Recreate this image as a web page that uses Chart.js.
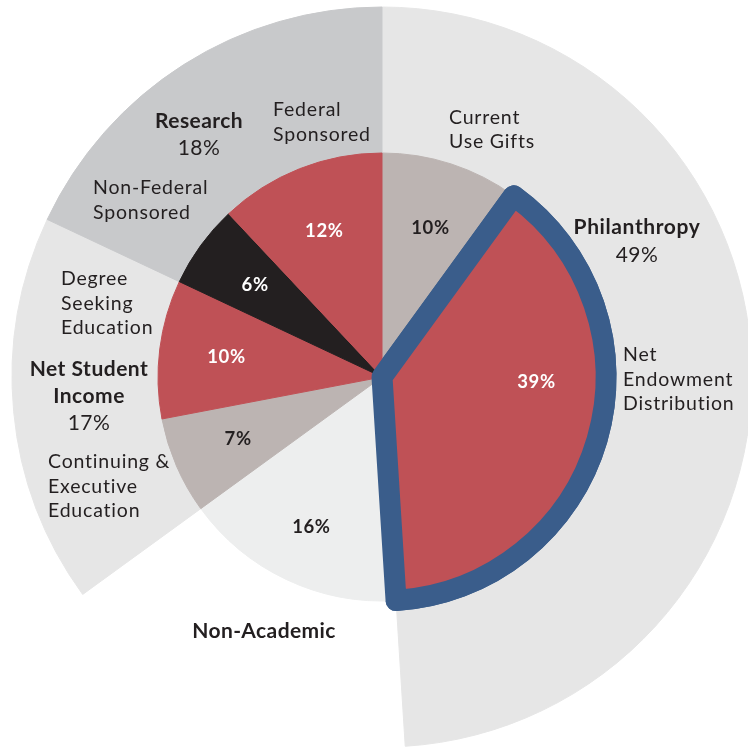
<!DOCTYPE html>
<html>
<head>
<meta charset="utf-8">
<script src="https://cdn.jsdelivr.net/npm/chart.js@4.4.1/dist/chart.umd.min.js"></script>
<style>
  html, body { margin: 0; padding: 0; background: #fff; }
  #wrap { width: 748px; height: 749px; }
</style>
</head>
<body>
<div id="wrap"><canvas id="chart" width="748" height="749"></canvas></div>
<script>
// ===== DATA =====
// inner pie, clockwise from 12 o'clock
const sliceLabels = ["Current Use Gifts", "Net Endowment Distribution", "Non-Academic",
  "Continuing & Executive Education", "Degree Seeking Education", "Non-Federal Sponsored", "Federal Sponsored"];
const sliceValues = [10, 39, 16, 7, 10, 6, 12];
const sliceColors = ["#bcb4b2", "#bf5156", "#edeeee", "#bcb4b2", "#bf5156", "#231f20", "#bf5156"];
const sliceTextColors = ["#231f20", "#ffffff", "#231f20", "#231f20", "#ffffff", "#ffffff", "#ffffff"];

// outer groups (Non-Academic has no outer band)
const groupLabels = ["Philanthropy", "", "Net Student Income", "Research"];
const groupValues = [49, 16, 17, 18];
const groupColors = ["#e6e6e6", "rgba(0,0,0,0)", "#e6e6e6", "#c8c9cb"];

const HIGHLIGHT = 1; // Net Endowment Distribution
const INK = "#231f20";

// ===== CHART =====
const OUTER_R = 370, INNER_R = 224;

const highlightPlugin = {
  id: "highlight",
  afterDatasetsDraw(chart) {
    // redraw the outlined slice so its border sits over the neighbours
    const arc = chart.getDatasetMeta(1).data[HIGHLIGHT];
    chart.ctx.save();
    arc.draw(chart.ctx);
    chart.ctx.restore();
  }
};

function drawLines(ctx, lines, x, y, align, gap) {
  ctx.textAlign = align;
  ctx.textBaseline = "middle";
  lines.forEach((l, i) => {
    ctx.font = l[1];
    ctx.letterSpacing = l[2] || "0.8px";
    ctx.fillText(l[0], x, y + (l[3] !== undefined ? l[3] : i * gap));
  });
}

const labelPlugin = {
  id: "labels",
  afterDraw(chart) {
    const ctx = chart.ctx;
    const meta = chart.getDatasetMeta(1);
    ctx.save();
    ctx.fillStyle = INK;

    // slice percentages
    meta.data.forEach((arc, i) => {
      let mid = (arc.startAngle + arc.endAngle) / 2;
      let r = INNER_R * 0.7;
      if (i === HIGHLIGHT) { mid = 0.03; r = INNER_R * 0.69; }
      if (i === 2) r = INNER_R * 0.74;
      const x = arc.x + Math.cos(mid) * r;
      const y = arc.y + Math.sin(mid) * r;
      ctx.fillStyle = sliceTextColors[i];
      ctx.font = "bold 18.5px Lato";
      ctx.letterSpacing = "0.6px";
      ctx.textAlign = "center";
      ctx.textBaseline = "middle";
      ctx.fillText(sliceValues[i] + "%", x, y);
    });

    ctx.fillStyle = INK;
    const cx = meta.data[0].x, cy = meta.data[0].y;
    const B = "bold 21px Lato", R = "19.5px Lato", P = "21px Lato";

    drawLines(ctx, [["Research", B, "0.4px"], ["18%", P, "0.5px", 27]], cx - 183, cy - 256, "center", 25);
    drawLines(ctx, [["Federal", R], ["Sponsored", R]], cx - 109, cy - 267, "left", 24.5);
    drawLines(ctx, [["Non-Federal", R], ["Sponsored", R]], cx - 289, cy - 189, "left", 24.5);
    drawLines(ctx, [["Current", R], ["Use Gifts", R]], cx + 67, cy - 259, "left", 23.5);
    drawLines(ctx, [["Philanthropy", B, "0.6px"], ["49%", P, "0.5px", 28]], cx + 255, cy - 150, "center", 27);
    drawLines(ctx, [["Net", R], ["Endowment", R], ["Distribution", R]], cx + 241, cy - 22, "left", 24.5);
    drawLines(ctx, [["Degree", R], ["Seeking", R], ["Education", R]], cx - 321, cy - 98, "left", 24.5);
    drawLines(ctx, [["Net Student", B, "0.5px"], ["Income", B, "0.5px"], ["17%", P, "0.5px"]], cx - 293, cy - 8, "center", 27);
    drawLines(ctx, [["Continuing &", R], ["Executive", R], ["Education", R]], cx - 334, cy + 85, "left", 24.5);
    drawLines(ctx, [["Non-Academic", B, "0.4px"]], cx - 118, cy + 254, "center", 25);
    ctx.restore();
  }
};

new Chart(document.getElementById("chart"), {
  type: "pie",
  data: {
    labels: sliceLabels,
    datasets: [
      {
        label: "Groups",
        data: groupValues,
        backgroundColor: groupColors,
        borderColor: groupColors,
        borderWidth: 1,
        weight: OUTER_R - INNER_R,
        radius: OUTER_R,
        order: 1,
        clip: false
      },
      {
        label: "Sources",
        data: sliceValues,
        backgroundColor: sliceColors,
        borderColor: sliceColors.map((c, i) => i === HIGHLIGHT ? "#3a5d8b" : c),
        borderWidth: sliceValues.map((v, i) => i === HIGHLIGHT ? 21 : 1),
        borderJoinStyle: "round",
        weight: INNER_R,
        radius: OUTER_R,
        order: 0,
        clip: false
      }
    ]
  },
  options: {
    responsive: false,
    animation: false,
    events: [],
    cutout: 0,
    radius: OUTER_R,
    hoverOffset: 0,
    hoverBorderWidth: 0,
    layout: { padding: { left: 16, top: 5, right: 0, bottom: 0 } },
    plugins: {
      legend: { display: false },
      tooltip: { enabled: false }
    }
  },
  plugins: [highlightPlugin, labelPlugin]
});
</script>
</body>
</html>
